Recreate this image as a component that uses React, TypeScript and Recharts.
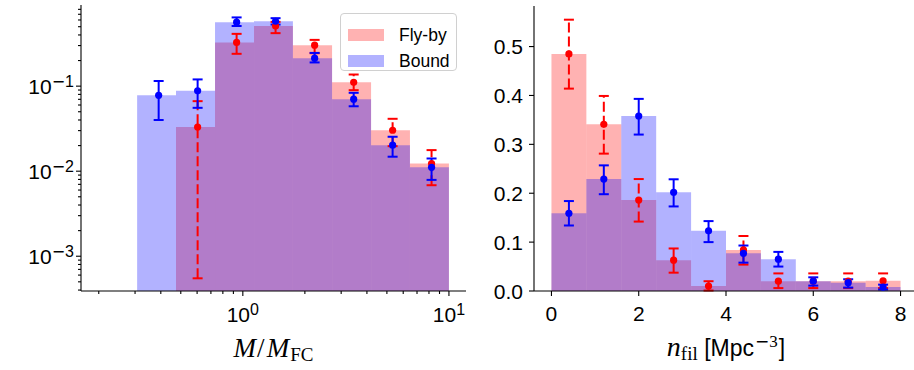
import React from 'react'
import { ComposedChart, XAxis, YAxis, Scatter, ErrorBar, ReferenceArea, Legend } from 'recharts'

// left panel: mass histogram (log-log)
const massEdges = [0.307, 0.474, 0.733, 1.133, 1.75, 2.71, 4.19, 6.47, 10]
const flybyMass = [0, 0.033, 0.327, 0.508, 0.303, 0.111, 0.0303, 0.0123]
const flybyMassLo = [null, 0.00055, 0.24, 0.42, 0.244, 0.0897, 0.0197, 0.00684]
const flybyMassHi = [null, 0.0666, 0.412, 0.57, 0.35, 0.137, 0.0413, 0.0177]
const boundMass = [0.078, 0.088, 0.566, 0.58, 0.213, 0.0703, 0.0202, 0.0111]
const boundMassLo = [0.04, 0.0556, 0.51, 0.53, 0.19, 0.058, 0.0148, 0.0079]
const boundMassHi = [0.115, 0.12, 0.643, 0.63, 0.246, 0.0835, 0.0254, 0.0141]
const massXTicks = [0.2, 0.3, 0.4, 0.5, 0.6, 0.7, 0.8, 0.9, 1, 2, 3, 4, 5, 6, 7, 8, 9, 10]
const massYTicks = [
  0.0004, 0.0005, 0.0006, 0.0007, 0.0008, 0.0009, 0.001,
  0.002, 0.003, 0.004, 0.005, 0.006, 0.007, 0.008, 0.009, 0.01,
  0.02, 0.03, 0.04, 0.05, 0.06, 0.07, 0.08, 0.09, 0.1,
  0.2, 0.3, 0.4, 0.5, 0.6, 0.7, 0.8,
]

// right panel: filament density histogram
const densEdges = [0, 0.8, 1.6, 2.4, 3.2, 4.0, 4.8, 5.6, 6.4, 7.2, 8.0]
const flybyDens = [0.485, 0.341, 0.186, 0.063, 0.01, 0.084, 0.02, 0.02, 0.02, 0.021]
const flybyDensLo = [0.414, 0.281, 0.142, 0.0375, 0.001, 0.054, 0.006, 0.006, 0.006, 0.006]
const flybyDensHi = [0.555, 0.399, 0.229, 0.087, 0.02, 0.1125, 0.036, 0.036, 0.036, 0.036]
const boundDens = [0.159, 0.229, 0.358, 0.202, 0.123, 0.077, 0.065, 0.02, 0.017, 0.008]
const boundDensLo = [0.134, 0.198, 0.32, 0.173, 0.1, 0.058, 0.05, 0.011, 0.007, 0.003]
const boundDensHi = [0.184, 0.257, 0.393, 0.2285, 0.143, 0.093, 0.08, 0.028, 0.024, 0.013]
const densXTicks = [0, 2, 4, 6, 8]
const densYTicks = [0, 0.1, 0.2, 0.3, 0.4, 0.5]

const seriesNames = ['Fly-by', 'Bound']
const RED = '#ff0000'
const BLUE = '#0000ff'

const massXDomain = [0.164, 12.1]
const massYDomain = [0.00039, 0.9]
const densXDomain = [-0.4, 8.4]
const densYDomain = [0, 0.583]

const SANS = '"Liberation Sans", Arial, sans-serif'
const SERIF = '"Liberation Serif", "Times New Roman", serif'
const TICK_FONT = 21

function points(edges: number[], vals: number[], lo: (number | null)[], hi: (number | null)[]) {
  const out: { x: number; y: number; err: number[] }[] = []
  vals.forEach((v, i) => {
    if (!v || lo[i] == null || hi[i] == null) return
    out.push({ x: (edges[i] + edges[i + 1]) / 2, y: v, err: [v - (lo[i] as number), (hi[i] as number) - v] })
  })
  return out
}

function isMajor(v: number) {
  const l = Math.log10(v)
  return Math.abs(l - Math.round(l)) < 1e-6
}

// "10" with a superscript exponent, minus drawn wide like mathtext
function Pow10(props: { v: number }) {
  const e = Math.round(Math.log10(props.v))
  return (
    <>
      10
      <tspan dy={-7} fontSize={16}>
        {e < 0 && <tspan fontFamily='"DejaVu Sans", sans-serif'>{'\u2212'}</tspan>}
        {Math.abs(e)}
      </tspan>
    </>
  )
}

function LogXTick(props: any) {
  const { x, y, payload } = props
  const major = isMajor(payload.value)
  return (
    <g>
      <line x1={x} x2={x} y1={y} y2={y + (major ? 5 : 3)} stroke="#000" strokeWidth={1.1} />
      {major && (
        <text x={x} y={y + 31} textAnchor="middle" fontFamily={SANS} fontSize={TICK_FONT} fill="#000">
          <Pow10 v={payload.value} />
        </text>
      )}
    </g>
  )
}

function LogYTick(props: any) {
  const { x, y, payload } = props
  const major = isMajor(payload.value)
  return (
    <g>
      <line x1={x - (major ? 5 : 3)} x2={x} y1={y} y2={y} stroke="#000" strokeWidth={1.1} />
      {major && (
        <text x={x - 7} y={y + 8} textAnchor="end" fontFamily={SANS} fontSize={TICK_FONT} fill="#000">
          <Pow10 v={payload.value} />
        </text>
      )}
    </g>
  )
}

function LinXTick(props: any) {
  const { x, y, payload } = props
  return (
    <g>
      <line x1={x} x2={x} y1={y} y2={y + 5} stroke="#000" strokeWidth={1.1} />
      <text x={x} y={y + 30} textAnchor="middle" fontFamily={SANS} fontSize={TICK_FONT} fill="#000">
        {payload.value}
      </text>
    </g>
  )
}

function LinYTick(props: any) {
  const { x, y, payload } = props
  return (
    <g>
      <line x1={x - 5} x2={x} y1={y} y2={y} stroke="#000" strokeWidth={1.1} />
      <text x={x - 11} y={y + 7.5} textAnchor="end" fontFamily={SANS} fontSize={TICK_FONT} fill="#000">
        {Number(payload.value).toFixed(1)}
      </text>
    </g>
  )
}

function MassLabel(props: any) {
  const vb = props.viewBox
  return (
    <text x={vb.x + vb.width / 2} y={vb.y + 66} textAnchor="middle" fontFamily={SERIF} fontSize={27} fill="#000">
      <tspan fontStyle="italic">M</tspan>
      <tspan dx={1}>/</tspan>
      <tspan dx={2} fontStyle="italic">M</tspan>
      <tspan dx={1} fontSize={19} dy={4}>FC</tspan>
    </text>
  )
}

function DensLabel(props: any) {
  const vb = props.viewBox
  return (
    <text x={vb.x + vb.width / 2} y={vb.y + 65} textAnchor="middle" fontSize={23} fill="#000">
      <tspan fontFamily={SERIF} fontStyle="italic" fontSize={28}>n</tspan>
      <tspan fontFamily={SERIF} fontSize={19} dy={4}>fil</tspan>
      <tspan fontFamily={SANS} dy={-4}> [Mpc</tspan>
      <tspan fontSize={17} dy={-9} dx={1}>
        <tspan fontFamily='"DejaVu Sans", sans-serif'>{'\u2212'}</tspan>
        <tspan fontFamily={SERIF}>3</tspan>
      </tspan>
      <tspan fontFamily={SANS} dy={9} dx={1}>]</tspan>
    </text>
  )
}

function LegendBox() {
  const colors = [RED, BLUE]
  return (
    <div
      style={{
        boxSizing: 'border-box',
        width: 117,
        height: 58,
        border: '1px solid #d0d0d0',
        borderRadius: 4,
        background: 'rgba(255,255,255,0.8)',
        padding: '8px 0 0 7px',
        fontFamily: SANS,
        fontSize: 17.5,
        color: '#000',
      }}
    >
      {seriesNames.map((name, i) => (
        <div key={name} style={{ display: 'flex', alignItems: 'center', height: 26 }}>
          <span style={{ width: 36, height: 12, background: colors[i], opacity: 0.3, display: 'inline-block' }} />
          <span style={{ marginLeft: 15, lineHeight: '20px' }}>{name}</span>
        </div>
      ))}
    </div>
  )
}

const axisLine = { stroke: '#000', strokeWidth: 1.1 }

function Panel(props: {
  width: number
  left: number
  top: number
  yWidth: number
  edges: number[]
  flyby: number[]
  bound: number[]
  flybyPts: any[]
  boundPts: any[]
  xDomain: number[]
  yDomain: number[]
  log: boolean
  xTicks: number[]
  yTicks: number[]
  legend?: boolean
}) {
  const { edges, flyby, bound, xDomain, yDomain, log } = props
  const scale = log ? 'log' : 'linear'
  return (
    <div style={{ position: 'absolute', left: props.left, top: 0 }}>
      <ComposedChart width={props.width} height={370} margin={{ top: props.top, right: 4, left: 0, bottom: 0 }}>
        <XAxis
          xAxisId="x"
          dataKey="x"
          type="number"
          scale={scale}
          domain={xDomain}
          allowDataOverflow
          ticks={props.xTicks}
          interval={0}
          height={79}
          tickSize={0}
          tickMargin={0}
          tickLine={false}
          axisLine={axisLine}
          tick={log ? LogXTick : LinXTick}
          label={log ? MassLabel : DensLabel}
        />
        <XAxis xAxisId="top" orientation="top" type="number" height={0} tick={false} tickLine={false} axisLine={axisLine} />
        <YAxis
          yAxisId="y"
          dataKey="y"
          type="number"
          scale={scale}
          domain={yDomain}
          allowDataOverflow
          ticks={props.yTicks}
          interval={0}
          width={props.yWidth}
          tickSize={0}
          tickMargin={0}
          tickLine={false}
          axisLine={axisLine}
          tick={log ? LogYTick : LinYTick}
        />
        <YAxis yAxisId="right" orientation="right" type="number" width={0} tick={false} tickLine={false} axisLine={axisLine} />
        {flyby.map((v, i) =>
          v > 0 ? (
            <ReferenceArea
              key={'f' + i}
              xAxisId="x"
              yAxisId="y"
              x1={edges[i]}
              x2={edges[i + 1]}
              y1={yDomain[0]}
              y2={v}
              fill={RED}
              fillOpacity={0.3}
              stroke="none"
              ifOverflow="visible"
            />
          ) : null
        )}
        {bound.map((v, i) =>
          v > 0 ? (
            <ReferenceArea
              key={'b' + i}
              xAxisId="x"
              yAxisId="y"
              x1={edges[i]}
              x2={edges[i + 1]}
              y1={yDomain[0]}
              y2={v}
              fill={BLUE}
              fillOpacity={0.3}
              stroke="none"
              ifOverflow="visible"
            />
          ) : null
        )}
        <Scatter
          xAxisId="x"
          yAxisId="y"
          data={props.flybyPts}
          dataKey="y"
          fill={RED}
          isAnimationActive={false}
          shape={(p: any) => <circle cx={p.cx} cy={p.cy} r={3.6} fill={RED} />}
        >
          <ErrorBar dataKey="err" direction="y" width={5} stroke={RED} strokeWidth={2} strokeDasharray="10 4" isAnimationActive={false} />
        </Scatter>
        <Scatter
          xAxisId="x"
          yAxisId="y"
          data={props.boundPts}
          dataKey="y"
          fill={BLUE}
          isAnimationActive={false}
          shape={(p: any) => <circle cx={p.cx} cy={p.cy} r={3.6} fill={BLUE} />}
        >
          <ErrorBar dataKey="err" direction="y" width={5} stroke={BLUE} strokeWidth={2} isAnimationActive={false} />
        </Scatter>
        {props.legend && (
          <Legend
            layout="horizontal"
            verticalAlign="middle"
            align="center"
            wrapperStyle={{ left: 340, top: 13, width: 117, height: 58 }}
            content={() => <LegendBox />}
          />
        )}
      </ComposedChart>
    </div>
  )
}

export default function App() {
  return (
    <div style={{ position: 'absolute', left: 0, top: 0, width: 914, height: 370, overflow: 'hidden', background: '#fff' }}>
      <Panel
        width={470}
        left={0}
        top={5}
        yWidth={81}
        edges={massEdges}
        flyby={flybyMass}
        bound={boundMass}
        flybyPts={points(massEdges, flybyMass, flybyMassLo, flybyMassHi)}
        boundPts={points(massEdges, boundMass, boundMassLo, boundMassHi)}
        xDomain={massXDomain}
        yDomain={massYDomain}
        log
        xTicks={massXTicks}
        yTicks={massYTicks}
        legend
      />
      <Panel
        width={462}
        left={460}
        top={6}
        yWidth={74}
        edges={densEdges}
        flyby={flybyDens}
        bound={boundDens}
        flybyPts={points(densEdges, flybyDens, flybyDensLo, flybyDensHi)}
        boundPts={points(densEdges, boundDens, boundDensLo, boundDensHi)}
        xDomain={densXDomain}
        yDomain={densYDomain}
        log={false}
        xTicks={densXTicks}
        yTicks={densYTicks}
      />
    </div>
  )
}
